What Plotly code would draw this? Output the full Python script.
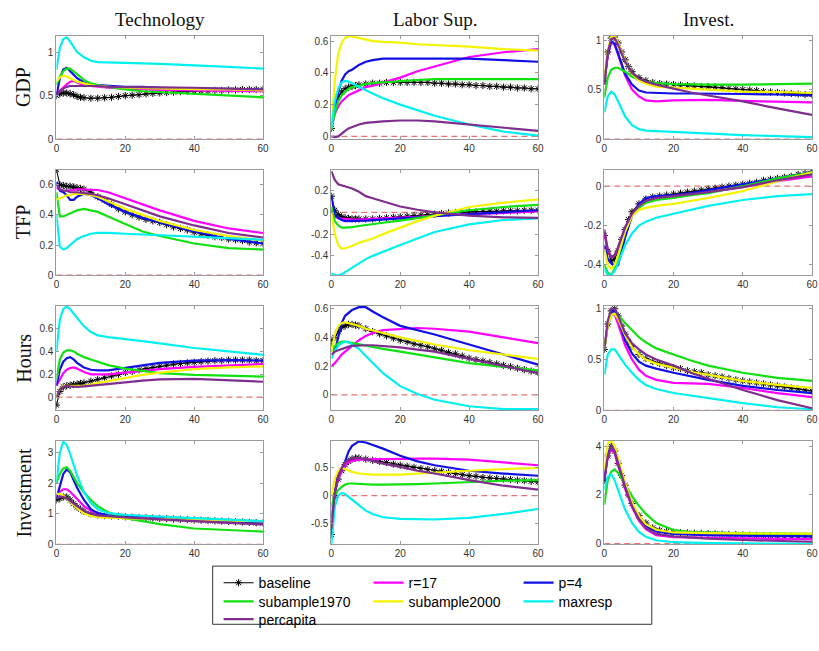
import plotly.graph_objects as go

# Impulse-response horizons (quarters)
H = [0, 1, 2, 3, 4, 5, 6, 8, 10, 12, 15, 20, 25, 30, 40, 50, 60]
H_BASE = [0, 1, 2, 3, 4, 5, 6, 7, 8] + list(range(10, 61, 2))

shocks = ["Technology", "Labor Sup.", "Invest."]
variables = ["GDP", "TFP", "Hours", "Investment"]
series_names = ["baseline", "r=17", "p=4", "subample1970", "subample2000", "maxresp", "percapita"]

# ---------------- GDP ----------------
gdp_tech_base = [0.50, 0.52, 0.53, 0.53, 0.52, 0.51, 0.49, 0.48, 0.475, 0.47, 0.47, 0.475, 0.48, 0.49, 0.50,
                 0.505, 0.51, 0.52, 0.525, 0.53, 0.535, 0.54, 0.545, 0.55, 0.55, 0.555, 0.555, 0.56, 0.56,
                 0.565, 0.565, 0.57, 0.57, 0.57, 0.57]
gdp_tech_r17 = [0.52, 0.56, 0.60, 0.63, 0.66, 0.67, 0.65, 0.62, 0.61, 0.60, 0.59, 0.58, 0.57, 0.565, 0.56, 0.555, 0.55]
gdp_tech_p4 = [0.50, 0.70, 0.80, 0.82, 0.78, 0.74, 0.70, 0.65, 0.63, 0.62, 0.61, 0.60, 0.60, 0.59, 0.58, 0.575, 0.57]
gdp_tech_s1970 = [0.62, 0.72, 0.78, 0.81, 0.81, 0.78, 0.74, 0.68, 0.64, 0.62, 0.60, 0.57, 0.55, 0.54, 0.52, 0.50, 0.48]
gdp_tech_s2000 = [0.66, 0.71, 0.73, 0.72, 0.70, 0.68, 0.66, 0.64, 0.62, 0.61, 0.60, 0.59, 0.585, 0.58, 0.575, 0.57, 0.56]
gdp_tech_max = [0.80, 1.05, 1.15, 1.17, 1.12, 1.06, 1.00, 0.94, 0.90, 0.885, 0.88, 0.875, 0.87, 0.865, 0.85, 0.83, 0.81]
gdp_tech_pc = [0.50, 0.55, 0.58, 0.60, 0.61, 0.61, 0.61, 0.61, 0.61, 0.61, 0.60, 0.60, 0.60, 0.595, 0.59, 0.58, 0.57]

gdp_lab_base = [0.05, 0.20, 0.25, 0.28, 0.30, 0.31, 0.315, 0.32, 0.325, 0.33, 0.335, 0.335, 0.34, 0.34, 0.34,
                0.34, 0.34, 0.34, 0.34, 0.335, 0.335, 0.33, 0.33, 0.325, 0.325, 0.32, 0.32, 0.315, 0.315,
                0.31, 0.31, 0.305, 0.305, 0.30, 0.30]
gdp_lab_r17 = [0.05, 0.14, 0.19, 0.22, 0.24, 0.26, 0.27, 0.29, 0.31, 0.32, 0.34, 0.37, 0.41, 0.44, 0.50, 0.53, 0.55]
gdp_lab_p4 = [0.05, 0.18, 0.28, 0.35, 0.39, 0.41, 0.42, 0.45, 0.47, 0.48, 0.49, 0.49, 0.49, 0.49, 0.49, 0.48, 0.47]
gdp_lab_s1970 = [0.04, 0.15, 0.22, 0.26, 0.28, 0.30, 0.31, 0.32, 0.33, 0.335, 0.34, 0.35, 0.355, 0.36, 0.36, 0.36, 0.36]
gdp_lab_s2000 = [0.05, 0.35, 0.52, 0.59, 0.62, 0.63, 0.63, 0.62, 0.61, 0.60, 0.595, 0.59, 0.58, 0.575, 0.565, 0.55, 0.54]
gdp_lab_max = [0.05, 0.22, 0.30, 0.34, 0.35, 0.345, 0.335, 0.31, 0.29, 0.27, 0.24, 0.20, 0.165, 0.13, 0.075, 0.03, 0.005]
gdp_lab_pc = [0.0, -0.005, 0.0, 0.02, 0.035, 0.05, 0.06, 0.075, 0.085, 0.09, 0.095, 0.10, 0.10, 0.095, 0.075, 0.055, 0.035]

gdp_inv_base = [0.59, 0.88, 1.02, 1.03, 0.97, 0.88, 0.80, 0.73, 0.68, 0.62, 0.59, 0.57, 0.56, 0.555, 0.55,
                0.545, 0.54, 0.535, 0.53, 0.53, 0.525, 0.52, 0.51, 0.505, 0.50, 0.495, 0.49, 0.48, 0.475,
                0.47, 0.465, 0.46, 0.455, 0.45, 0.45]
gdp_inv_r17 = [0.55, 0.85, 0.98, 0.95, 0.85, 0.74, 0.64, 0.50, 0.43, 0.39, 0.38, 0.39, 0.395, 0.395, 0.385, 0.375, 0.37]
gdp_inv_p4 = [0.58, 0.85, 0.99, 0.96, 0.86, 0.76, 0.66, 0.55, 0.49, 0.47, 0.465, 0.46, 0.46, 0.46, 0.455, 0.45, 0.44]
gdp_inv_s1970 = [0.42, 0.62, 0.70, 0.72, 0.72, 0.70, 0.68, 0.63, 0.60, 0.58, 0.565, 0.555, 0.55, 0.55, 0.55, 0.555, 0.56]
gdp_inv_s2000 = [0.60, 0.90, 1.03, 1.04, 0.97, 0.88, 0.79, 0.66, 0.59, 0.56, 0.53, 0.52, 0.51, 0.50, 0.48, 0.475, 0.465]
gdp_inv_max = [0.27, 0.43, 0.48, 0.45, 0.38, 0.30, 0.23, 0.14, 0.10, 0.085, 0.08, 0.075, 0.065, 0.055, 0.04, 0.03, 0.02]
gdp_inv_pc = [0.55, 0.88, 1.01, 1.02, 0.95, 0.86, 0.78, 0.67, 0.61, 0.58, 0.55, 0.51, 0.47, 0.44, 0.38, 0.31, 0.245]

# ---------------- TFP ----------------
tfp_tech_base = [0.70, 0.60, 0.595, 0.59, 0.59, 0.585, 0.58, 0.575, 0.57, 0.55, 0.52, 0.50, 0.47, 0.44, 0.42,
                 0.40, 0.385, 0.37, 0.36, 0.35, 0.335, 0.32, 0.31, 0.30, 0.285, 0.275, 0.265, 0.255, 0.25,
                 0.24, 0.235, 0.23, 0.22, 0.215, 0.21]
tfp_tech_r17 = [0.58, 0.57, 0.56, 0.56, 0.56, 0.565, 0.57, 0.57, 0.57, 0.565, 0.55, 0.51, 0.47, 0.43, 0.36, 0.31, 0.28]
tfp_tech_p4 = [0.62, 0.56, 0.55, 0.53, 0.50, 0.50, 0.52, 0.54, 0.53, 0.51, 0.47, 0.42, 0.38, 0.35, 0.29, 0.24, 0.21]
tfp_tech_s1970 = [0.55, 0.39, 0.39, 0.40, 0.41, 0.42, 0.43, 0.44, 0.43, 0.42, 0.39, 0.34, 0.29, 0.26, 0.21, 0.18, 0.17]
tfp_tech_s2000 = [0.50, 0.51, 0.52, 0.53, 0.53, 0.54, 0.54, 0.54, 0.53, 0.52, 0.49, 0.44, 0.40, 0.36, 0.30, 0.26, 0.23]
tfp_tech_max = [0.40, 0.19, 0.17, 0.18, 0.20, 0.22, 0.24, 0.26, 0.275, 0.28, 0.28, 0.275, 0.27, 0.265, 0.255, 0.245, 0.235]
tfp_tech_pc = [0.60, 0.57, 0.56, 0.56, 0.55, 0.55, 0.55, 0.545, 0.54, 0.53, 0.51, 0.47, 0.43, 0.39, 0.33, 0.28, 0.25]

tfp_lab_base = [0.15, 0.02, -0.02, -0.04, -0.05, -0.055, -0.06, -0.06, -0.06, -0.06, -0.06, -0.055, -0.05,
                -0.045, -0.04, -0.035, -0.03, -0.025, -0.02, -0.015, -0.01, -0.005, 0.0, 0.0, 0.005, 0.005,
                0.01, 0.01, 0.01, 0.015, 0.015, 0.015, 0.02, 0.02, 0.02]
tfp_lab_r17 = [0.02, -0.04, -0.05, -0.06, -0.06, -0.065, -0.065, -0.065, -0.065, -0.06, -0.055, -0.05, -0.04, -0.03, -0.015, 0.0, 0.01]
tfp_lab_p4 = [0.15, -0.02, -0.05, -0.07, -0.08, -0.08, -0.08, -0.08, -0.075, -0.07, -0.065, -0.055, -0.045, -0.035, -0.015, 0.005, 0.02]
tfp_lab_s1970 = [0.05, -0.08, -0.12, -0.14, -0.14, -0.14, -0.135, -0.125, -0.115, -0.105, -0.095, -0.075, -0.05, -0.025, 0.02, 0.05, 0.07]
tfp_lab_s2000 = [0.0, -0.20, -0.30, -0.335, -0.33, -0.32, -0.31, -0.28, -0.26, -0.24, -0.20, -0.14, -0.08, -0.03, 0.05, 0.09, 0.12]
tfp_lab_max = [-0.56, -0.58, -0.58, -0.57, -0.55, -0.53, -0.51, -0.47, -0.43, -0.40, -0.36, -0.30, -0.24, -0.18, -0.11, -0.07, -0.055]
tfp_lab_pc = [0.38, 0.30, 0.26, 0.25, 0.24, 0.23, 0.22, 0.19, 0.15, 0.13, 0.10, 0.055, 0.025, 0.0, -0.03, -0.045, -0.05]

tfp_inv_base = [-0.25, -0.33, -0.38, -0.37, -0.33, -0.27, -0.22, -0.17, -0.13, -0.09, -0.065, -0.055, -0.05,
                -0.045, -0.04, -0.035, -0.03, -0.025, -0.02, -0.015, -0.01, -0.005, 0.0, 0.005, 0.01, 0.015,
                0.02, 0.03, 0.035, 0.04, 0.045, 0.05, 0.06, 0.065, 0.075]
tfp_inv_r17 = [-0.24, -0.33, -0.36, -0.35, -0.31, -0.26, -0.21, -0.14, -0.10, -0.075, -0.06, -0.05, -0.04, -0.03, -0.005, 0.025, 0.05]
tfp_inv_p4 = [-0.30, -0.37, -0.39, -0.41, -0.40, -0.33, -0.26, -0.15, -0.09, -0.06, -0.05, -0.045, -0.035, -0.02, 0.01, 0.04, 0.07]
tfp_inv_s1970 = [-0.40, -0.44, -0.45, -0.42, -0.36, -0.29, -0.23, -0.15, -0.11, -0.085, -0.07, -0.06, -0.045, -0.035, 0.0, 0.04, 0.07]
tfp_inv_s2000 = [-0.32, -0.40, -0.42, -0.40, -0.35, -0.29, -0.23, -0.15, -0.12, -0.11, -0.10, -0.09, -0.075, -0.06, -0.025, 0.025, 0.07]
tfp_inv_max = [-0.42, -0.45, -0.45, -0.43, -0.39, -0.34, -0.30, -0.24, -0.20, -0.18, -0.16, -0.14, -0.12, -0.10, -0.07, -0.05, -0.04]
tfp_inv_pc = [-0.22, -0.32, -0.36, -0.35, -0.31, -0.26, -0.21, -0.14, -0.10, -0.075, -0.06, -0.05, -0.04, -0.03, -0.005, 0.03, 0.06]

# ---------------- Hours ----------------
hrs_tech_base = [-0.07, 0.05, 0.09, 0.10, 0.105, 0.11, 0.115, 0.12, 0.125, 0.14, 0.155, 0.17, 0.185, 0.20, 0.215,
                 0.225, 0.24, 0.25, 0.26, 0.27, 0.28, 0.29, 0.295, 0.30, 0.305, 0.31, 0.315, 0.32, 0.32,
                 0.325, 0.325, 0.325, 0.325, 0.32, 0.32]
hrs_tech_r17 = [0.10, 0.16, 0.21, 0.24, 0.255, 0.26, 0.25, 0.22, 0.20, 0.20, 0.20, 0.215, 0.23, 0.245, 0.265, 0.28, 0.29]
hrs_tech_p4 = [0.10, 0.24, 0.31, 0.34, 0.35, 0.33, 0.30, 0.26, 0.24, 0.235, 0.235, 0.255, 0.28, 0.30, 0.32, 0.325, 0.32]
hrs_tech_s1970 = [0.15, 0.33, 0.39, 0.41, 0.41, 0.40, 0.38, 0.35, 0.33, 0.31, 0.28, 0.25, 0.23, 0.21, 0.195, 0.185, 0.18]
hrs_tech_s2000 = [0.0, 0.07, 0.10, 0.10, 0.10, 0.10, 0.10, 0.10, 0.11, 0.125, 0.14, 0.17, 0.195, 0.215, 0.245, 0.26, 0.27]
hrs_tech_max = [0.40, 0.68, 0.77, 0.795, 0.77, 0.73, 0.69, 0.62, 0.57, 0.54, 0.525, 0.51, 0.49, 0.47, 0.43, 0.40, 0.37]
hrs_tech_pc = [0.0, 0.07, 0.09, 0.10, 0.095, 0.09, 0.09, 0.095, 0.10, 0.105, 0.115, 0.13, 0.145, 0.155, 0.16, 0.15, 0.135]

hrs_lab_base = [0.38, 0.40, 0.44, 0.47, 0.48, 0.49, 0.49, 0.485, 0.48, 0.46, 0.44, 0.425, 0.41, 0.395, 0.38,
                0.37, 0.355, 0.345, 0.335, 0.32, 0.31, 0.295, 0.285, 0.27, 0.255, 0.245, 0.235, 0.225, 0.215,
                0.205, 0.195, 0.185, 0.175, 0.165, 0.155]
hrs_lab_r17 = [0.20, 0.22, 0.25, 0.28, 0.30, 0.32, 0.34, 0.38, 0.41, 0.43, 0.45, 0.46, 0.465, 0.46, 0.44, 0.40, 0.36]
hrs_lab_p4 = [0.36, 0.30, 0.40, 0.50, 0.55, 0.57, 0.59, 0.61, 0.61, 0.58, 0.54, 0.48, 0.45, 0.42, 0.35, 0.28, 0.21]
hrs_lab_s1970 = [0.30, 0.34, 0.36, 0.37, 0.37, 0.365, 0.36, 0.35, 0.34, 0.33, 0.32, 0.30, 0.28, 0.26, 0.22, 0.195, 0.17]
hrs_lab_s2000 = [0.30, 0.42, 0.48, 0.50, 0.505, 0.50, 0.495, 0.48, 0.46, 0.45, 0.43, 0.40, 0.375, 0.35, 0.31, 0.28, 0.25]
hrs_lab_max = [0.25, 0.31, 0.34, 0.36, 0.37, 0.365, 0.35, 0.32, 0.27, 0.22, 0.15, 0.06, 0.005, -0.035, -0.08, -0.10, -0.10]
hrs_lab_pc = [0.28, 0.30, 0.31, 0.32, 0.33, 0.335, 0.34, 0.345, 0.345, 0.345, 0.34, 0.33, 0.315, 0.30, 0.25, 0.20, 0.15]

hrs_inv_base = [0.60, 0.85, 0.98, 1.00, 0.93, 0.83, 0.75, 0.68, 0.63, 0.55, 0.51, 0.48, 0.46, 0.44, 0.42,
                0.41, 0.39, 0.38, 0.37, 0.35, 0.34, 0.33, 0.315, 0.30, 0.29, 0.28, 0.27, 0.26, 0.25,
                0.24, 0.23, 0.22, 0.21, 0.20, 0.19]
hrs_inv_r17 = [0.60, 0.85, 0.95, 0.94, 0.85, 0.74, 0.64, 0.50, 0.40, 0.34, 0.30, 0.27, 0.265, 0.26, 0.22, 0.17, 0.13]
hrs_inv_p4 = [0.60, 0.85, 0.97, 0.98, 0.90, 0.79, 0.69, 0.56, 0.48, 0.44, 0.41, 0.37, 0.335, 0.30, 0.24, 0.20, 0.17]
hrs_inv_s1970 = [0.60, 0.85, 0.93, 0.95, 0.93, 0.90, 0.86, 0.79, 0.72, 0.67, 0.61, 0.55, 0.49, 0.44, 0.37, 0.32, 0.29]
hrs_inv_s2000 = [0.60, 0.84, 0.94, 0.95, 0.90, 0.82, 0.74, 0.62, 0.55, 0.50, 0.46, 0.42, 0.38, 0.35, 0.29, 0.25, 0.22]
hrs_inv_max = [0.35, 0.55, 0.60, 0.60, 0.55, 0.50, 0.45, 0.37, 0.30, 0.25, 0.21, 0.17, 0.145, 0.12, 0.07, 0.03, 0.01]
hrs_inv_pc = [0.60, 0.88, 1.00, 1.00, 0.93, 0.84, 0.76, 0.66, 0.60, 0.55, 0.50, 0.44, 0.37, 0.31, 0.20, 0.10, 0.02]

# ---------------- Investment ----------------
inv_tech_base = [1.45, 1.50, 1.55, 1.55, 1.45, 1.33, 1.22, 1.15, 1.08, 1.00, 0.96, 0.94, 0.93, 0.92, 0.90,
                 0.89, 0.88, 0.87, 0.86, 0.85, 0.84, 0.83, 0.82, 0.81, 0.80, 0.79, 0.78, 0.77, 0.76,
                 0.75, 0.74, 0.73, 0.72, 0.71, 0.70]
inv_tech_r17 = [1.60, 1.72, 1.80, 1.80, 1.72, 1.60, 1.48, 1.25, 1.10, 1.00, 0.95, 0.90, 0.87, 0.83, 0.76, 0.71, 0.68]
inv_tech_p4 = [1.50, 1.90, 2.30, 2.45, 2.35, 2.10, 1.85, 1.45, 1.15, 1.02, 0.96, 0.92, 0.90, 0.87, 0.82, 0.76, 0.71]
inv_tech_s1970 = [2.00, 2.30, 2.48, 2.52, 2.40, 2.20, 2.00, 1.70, 1.45, 1.25, 1.05, 0.86, 0.75, 0.66, 0.52, 0.46, 0.42]
inv_tech_s2000 = [1.65, 1.65, 1.60, 1.50, 1.40, 1.28, 1.18, 1.02, 0.93, 0.89, 0.87, 0.85, 0.84, 0.83, 0.81, 0.78, 0.75]
inv_tech_max = [2.00, 3.00, 3.35, 3.25, 2.95, 2.60, 2.25, 1.70, 1.35, 1.15, 1.02, 0.96, 0.93, 0.90, 0.86, 0.81, 0.76]
inv_tech_pc = [1.50, 1.55, 1.55, 1.50, 1.42, 1.33, 1.25, 1.10, 1.00, 0.95, 0.92, 0.88, 0.85, 0.82, 0.76, 0.70, 0.65]

inv_lab_base = [-0.70, 0.0, 0.30, 0.45, 0.56, 0.62, 0.66, 0.68, 0.68, 0.66, 0.64, 0.62, 0.60, 0.57, 0.55,
                0.53, 0.51, 0.49, 0.47, 0.45, 0.44, 0.42, 0.40, 0.38, 0.36, 0.35, 0.33, 0.32, 0.31,
                0.30, 0.29, 0.28, 0.27, 0.26, 0.25]
inv_lab_r17 = [-0.40, 0.05, 0.30, 0.45, 0.55, 0.60, 0.63, 0.65, 0.65, 0.66, 0.66, 0.67, 0.67, 0.67, 0.65, 0.60, 0.55]
inv_lab_p4 = [-0.70, 0.05, 0.40, 0.48, 0.62, 0.80, 0.90, 0.98, 0.96, 0.92, 0.85, 0.72, 0.62, 0.55, 0.45, 0.40, 0.36]
inv_lab_s1970 = [-0.20, 0.02, 0.10, 0.16, 0.20, 0.22, 0.22, 0.21, 0.21, 0.20, 0.20, 0.20, 0.21, 0.22, 0.25, 0.27, 0.28]
inv_lab_s2000 = [0.00, 0.30, 0.45, 0.50, 0.48, 0.45, 0.43, 0.40, 0.39, 0.38, 0.38, 0.38, 0.40, 0.42, 0.45, 0.48, 0.50]
inv_lab_max = [-0.88, -0.20, 0.00, 0.05, 0.03, -0.02, -0.08, -0.18, -0.27, -0.33, -0.39, -0.42, -0.43, -0.43, -0.40, -0.33, -0.24]
inv_lab_pc = [-0.60, 0.05, 0.35, 0.50, 0.60, 0.65, 0.68, 0.68, 0.66, 0.63, 0.58, 0.52, 0.45, 0.40, 0.28, 0.18, 0.11]

inv_inv_base = [2.60, 3.60, 4.00, 3.80, 3.30, 2.80, 2.40, 2.00, 1.65, 1.15, 0.85, 0.65, 0.55, 0.50, 0.47,
                0.45, 0.44, 0.43, 0.42, 0.41, 0.40, 0.39, 0.38, 0.37, 0.36, 0.35, 0.34, 0.33, 0.33,
                0.32, 0.31, 0.31, 0.30, 0.30, 0.29]
inv_inv_r17 = [2.60, 3.60, 3.90, 3.70, 3.20, 2.70, 2.25, 1.50, 0.95, 0.60, 0.35, 0.27, 0.25, 0.24, 0.22, 0.20, 0.19]
inv_inv_p4 = [2.60, 3.70, 4.00, 3.80, 3.30, 2.80, 2.35, 1.60, 1.05, 0.72, 0.50, 0.40, 0.37, 0.35, 0.33, 0.31, 0.30]
inv_inv_s1970 = [1.60, 2.60, 2.95, 3.05, 2.90, 2.65, 2.40, 1.95, 1.55, 1.22, 0.85, 0.56, 0.48, 0.45, 0.42, 0.41, 0.40]
inv_inv_s2000 = [3.00, 4.10, 4.25, 4.00, 3.50, 2.95, 2.50, 1.70, 1.15, 0.80, 0.57, 0.46, 0.44, 0.43, 0.42, 0.41, 0.41]
inv_inv_max = [2.20, 2.75, 2.85, 2.60, 2.20, 1.80, 1.40, 0.85, 0.48, 0.28, 0.14, 0.06, 0.03, 0.02, 0.01, 0.0, 0.0]
inv_inv_pc = [2.60, 3.60, 4.00, 3.80, 3.30, 2.80, 2.35, 1.55, 1.00, 0.65, 0.40, 0.30, 0.25, 0.21, 0.15, 0.11, 0.08]

# Y-axis ticks per panel (row = variable, column = shock)
yticks = [
    [[0, 0.5, 1], [0, 0.2, 0.4, 0.6], [0, 0.5, 1]],
    [[0, 0.2, 0.4, 0.6], [-0.4, -0.2, 0, 0.2], [-0.4, -0.2, 0]],
    [[0, 0.2, 0.4, 0.6], [0, 0.2, 0.4, 0.6], [0, 0.5, 1]],
    [[0, 1, 2, 3], [-0.5, 0, 0.5], [0, 2, 4]],
]
yranges = [
    [[0, 1.19], [-0.017, 0.635], [0, 1.045]],
    [[0, 0.70], [-0.578, 0.394], [-0.452, 0.084]],
    [[-0.115, 0.80], [-0.108, 0.62], [0, 1.03]],
    [[0, 3.38], [-0.88, 0.99], [-0.03, 4.22]],
]
xticks = [0, 20, 40, 60]

panels = [
    [[gdp_tech_base, gdp_tech_r17, gdp_tech_p4, gdp_tech_s1970, gdp_tech_s2000, gdp_tech_max, gdp_tech_pc],
     [gdp_lab_base, gdp_lab_r17, gdp_lab_p4, gdp_lab_s1970, gdp_lab_s2000, gdp_lab_max, gdp_lab_pc],
     [gdp_inv_base, gdp_inv_r17, gdp_inv_p4, gdp_inv_s1970, gdp_inv_s2000, gdp_inv_max, gdp_inv_pc]],
    [[tfp_tech_base, tfp_tech_r17, tfp_tech_p4, tfp_tech_s1970, tfp_tech_s2000, tfp_tech_max, tfp_tech_pc],
     [tfp_lab_base, tfp_lab_r17, tfp_lab_p4, tfp_lab_s1970, tfp_lab_s2000, tfp_lab_max, tfp_lab_pc],
     [tfp_inv_base, tfp_inv_r17, tfp_inv_p4, tfp_inv_s1970, tfp_inv_s2000, tfp_inv_max, tfp_inv_pc]],
    [[hrs_tech_base, hrs_tech_r17, hrs_tech_p4, hrs_tech_s1970, hrs_tech_s2000, hrs_tech_max, hrs_tech_pc],
     [hrs_lab_base, hrs_lab_r17, hrs_lab_p4, hrs_lab_s1970, hrs_lab_s2000, hrs_lab_max, hrs_lab_pc],
     [hrs_inv_base, hrs_inv_r17, hrs_inv_p4, hrs_inv_s1970, hrs_inv_s2000, hrs_inv_max, hrs_inv_pc]],
    [[inv_tech_base, inv_tech_r17, inv_tech_p4, inv_tech_s1970, inv_tech_s2000, inv_tech_max, inv_tech_pc],
     [inv_lab_base, inv_lab_r17, inv_lab_p4, inv_lab_s1970, inv_lab_s2000, inv_lab_max, inv_lab_pc],
     [inv_inv_base, inv_inv_r17, inv_inv_p4, inv_inv_s1970, inv_inv_s2000, inv_inv_max, inv_inv_pc]],
]

colors = ["#000000", "#ff00ff", "#1010e6", "#11e011", "#f4f400", "#00f0f0", "#7e2f8e"]
legend_of = ["legend", "legend", "legend", "legend2", "legend2", "legend2", "legend3"]

W, HGT = 819, 651
col_px = [(54, 263), (332, 541), (608, 818)]
row_px = [(33, 138), (169, 276), (307, 413), (444, 549)]

def fmt(v):
    return "%g" % v

fig = go.Figure()
layout_axes = {}
for r in range(4):
    for c in range(3):
        k = r * 3 + c + 1
        xa = "x" if k == 1 else "x%d" % k
        ya = "y" if k == 1 else "y%d" % k
        # zero reference
        fig.add_trace(go.Scatter(x=[0, 60], y=[0, 0], mode="lines", xaxis=xa, yaxis=ya,
                                 line=dict(color="#e57373", width=1.3, dash="6px,4px"),
                                 showlegend=False, hoverinfo="skip"))
        for s, name in enumerate(series_names):
            vals = panels[r][c][s]
            if s == 0:
                tr = go.Scatter(x=H_BASE, y=vals, mode="lines+markers", name=name,
                                line=dict(color=colors[s], width=1.1),
                                marker=dict(symbol="asterisk-open", size=6,
                                            line=dict(color=colors[s], width=1)))
            else:
                tr = go.Scatter(x=H, y=vals, mode="lines", name=name,
                                line=dict(color=colors[s], width=2.2))
            tr.update(xaxis=xa, yaxis=ya, legend=legend_of[s],
                      showlegend=(k == 1), legendgroup=name, cliponaxis=True)
            fig.add_trace(tr)
        x0, x1 = col_px[c]
        y0, y1 = row_px[r]
        axis_common = dict(showline=True, linecolor="#9a9a9a", linewidth=1, mirror="allticks",
                           ticks="inside", ticklen=3, tickcolor="#9a9a9a", showgrid=False,
                           zeroline=False, tickfont=dict(family="Liberation Sans", size=10, color="#333333"))
        layout_axes["xaxis" if k == 1 else "xaxis%d" % k] = dict(
            domain=[x0 / W, x1 / W], range=[0, 60], tickvals=xticks,
            ticktext=[fmt(v) for v in xticks], anchor=ya, **axis_common)
        layout_axes["yaxis" if k == 1 else "yaxis%d" % k] = dict(
            domain=[1 - y1 / HGT, 1 - y0 / HGT], range=yranges[r][c], tickvals=yticks[r][c],
            ticktext=[fmt(v) for v in yticks[r][c]], anchor=xa, **axis_common)

annotations = []
title_font = dict(family="Liberation Serif", size=19, color="#111111")
label_font = dict(family="Liberation Serif", size=20, color="#111111")
for c, t in enumerate(shocks):
    x0, x1 = col_px[c]
    annotations.append(dict(text=t, x=(x0 + x1) / 2 / W, y=1 - 17 / HGT, xref="paper", yref="paper",
                            showarrow=False, font=title_font, xanchor="center", yanchor="middle"))
for r, v in enumerate(variables):
    y0, y1 = row_px[r]
    annotations.append(dict(text=v, x=21 / W, y=1 - (y0 + y1) / 2 / HGT, xref="paper", yref="paper",
                            showarrow=False, font=label_font, textangle=-90, xanchor="center", yanchor="middle"))

leg_common = dict(orientation="h", xanchor="left", yanchor="top", bgcolor="rgba(0,0,0,0)",
                  borderwidth=0, entrywidth=105, entrywidthmode="pixels", itemwidth=30,
                  font=dict(family="Liberation Sans", size=14, color="#000000"))
leg_x = 218 / W

fig.update_layout(
    width=W, height=HGT, margin=dict(l=0, r=0, t=0, b=0),
    paper_bgcolor="white", plot_bgcolor="white",
    annotations=annotations,
    legend=dict(x=leg_x, y=1 - 572 / HGT, **leg_common),
    legend2=dict(x=leg_x, y=1 - 591 / HGT, **leg_common),
    legend3=dict(x=leg_x, y=1 - 609 / HGT, **leg_common),
    shapes=[dict(type="rect", xref="paper", yref="paper", x0=212 / W, x1=656 / W,
                 y0=1 - 630 / HGT, y1=1 - 571 / HGT, line=dict(color="#333333", width=1))],
    **layout_axes,
)

fig.write_html("out.html")
